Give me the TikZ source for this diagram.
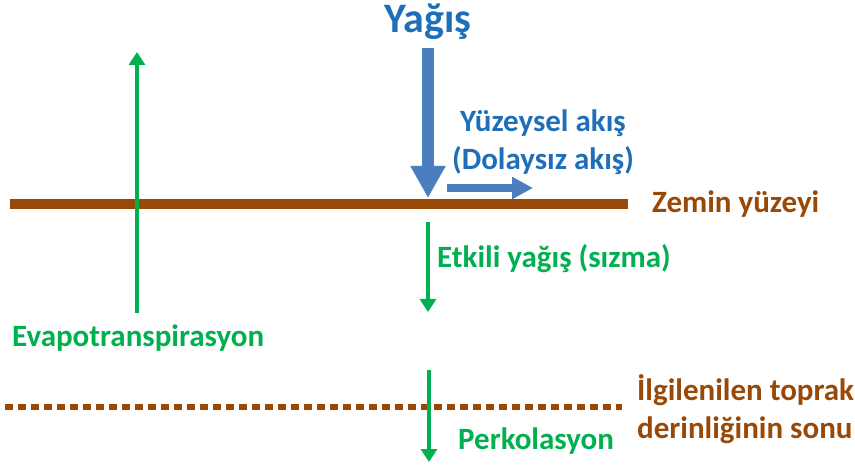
\documentclass[tikz,border=0pt]{standalone}
\usepackage{fontspec}
\setmainfont{Carlito}
\usetikzlibrary{arrows.meta}
\definecolor{yagismavi}{HTML}{1F6EBA}
\definecolor{okmavi}{HTML}{4A7EBF}
\definecolor{akisyesil}{HTML}{00B050}
\definecolor{zeminkahve}{HTML}{984807}
\begin{document}
\begin{tikzpicture}[x=1pt,y=-1pt,
    etiket/.style={font=\bfseries\fontsize{31}{36}\selectfont, inner sep=0pt},
    yesilok/.style={draw=akisyesil, line width=4pt, -{Triangle[width=16pt,length=13pt]}},
    mavihat/.style={draw=okmavi, line width=#1},
    zemin/.style={draw=zeminkahve, line width=10pt}]
    \useasboundingbox (0,0) rectangle (855,465);
    % Yağış ve yüzeysel akış
    \node[etiket, text=yagismavi, font=\bfseries\fontsize{42}{48}\selectfont, anchor=base] (yagis) at (428,33) {Yağış};
    \coordinate (yagisbas) at (428,48);
    \coordinate (yagisuc) at (428,198);
    \draw[mavihat=12pt, -{Triangle[width=33pt,length=32pt]}] (yagisbas) -- (yagisuc);
    \coordinate (akisbas) at (447,188);
    \coordinate (akisuc) at (533,188);
    \draw[mavihat=8pt, -{Triangle[width=21pt,length=21pt]}] (akisbas) -- (akisuc);
    \node[etiket, text=yagismavi, anchor=base] (yuzeysel) at (543,132) {Yüzeysel akış};
    \node[etiket, text=yagismavi, anchor=base] (dolaysiz) at (543,170) {(Dolaysız akış)};
    % Zemin yüzeyi
    \coordinate (zeminsol) at (10,204);
    \coordinate (zeminsag) at (628,204);
    \draw[zemin] (zeminsol) -- (zeminsag);
    \node[etiket, text=zeminkahve, anchor=base west] (zeminad) at (652,213) {Zemin yüzeyi};
    % Evapotranspirasyon
    \coordinate (evaalt) at (137,313);
    \coordinate (evaust) at (137,52);
    \draw[yesilok] (evaalt) -- (evaust);
    \node[etiket, text=akisyesil, anchor=base west] (eva) at (12,347) {Evapotranspirasyon};
    % Etkili yağış
    \coordinate (sizmaust) at (428,222);
    \coordinate (sizmaalt) at (428,312);
    \draw[yesilok] (sizmaust) -- (sizmaalt);
    \node[etiket, text=akisyesil, anchor=base west] (sizma) at (437,268) {Etkili yağış (sızma)};
    % Toprak derinliği sonu
    \coordinate (derinsol) at (5,407);
    \coordinate (derinsag) at (622,407);
    \draw[draw=zeminkahve, line width=6pt, dash pattern=on 8pt off 5pt] (derinsol) -- (derinsag);
    \node[etiket, text=zeminkahve, anchor=base west] (ilgi) at (637,400) {İlgilenilen toprak};
    \node[etiket, text=zeminkahve, anchor=base west] (derin) at (637,438) {derinliğinin sonu};
    % Perkolasyon
    \coordinate (perkust) at (429,370);
    \coordinate (perkalt) at (429,462);
    \draw[yesilok] (perkust) -- (perkalt);
    \node[etiket, text=akisyesil, anchor=base west] (perk) at (458,449) {Perkolasyon};
\end{tikzpicture}
\end{document}
